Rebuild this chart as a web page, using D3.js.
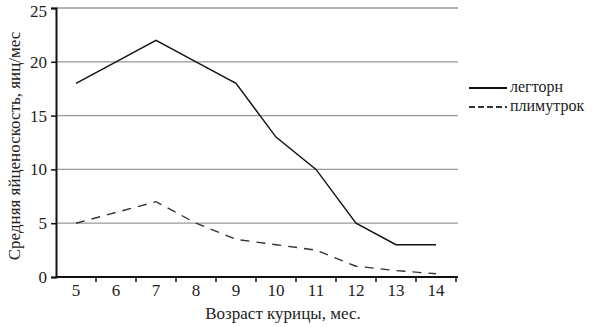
<!DOCTYPE html>
<html><head><meta charset="utf-8">
<script src="https://cdn.jsdelivr.net/npm/d3@7"></script>
</head><body style="margin:0"><svg id="c" width="599" height="327"></svg>
<script>
const ages = ["5","6","7","8","9","10","11","12","13","14"];
const leghorn = [18,20,22,20,18,13,10,5,3,3];
const plymouth = [5,6,7,5,3.5,3,2.5,1,0.6,0.3];
const yTicks = [0,5,10,15,20,25];
const seriesNames = ["легторн","плимутрок"];

const FONT = '"Liberation Serif"';
const svg = d3.select("#c");
const x = d3.scaleBand().domain(ages).range([56,456]);
const y = d3.scaleLinear().domain([0,25]).range([277,8]);

function fontify(sel, size){ sel.style("font-family",FONT).style("font-size",size+"px").attr("fill","#222"); return sel; }

// grid
svg.append("g").selectAll("line").data(yTicks.filter(d=>d>0)).join("line")
  .attr("x1",56).attr("x2",458).attr("y1",d=>y(d)).attr("y2",d=>y(d))
  .attr("stroke","#999").attr("stroke-width",1.3);

// y axis
const ya = svg.append("g").attr("transform","translate(56,0)")
  .call(d3.axisLeft(y).tickValues(yTicks).tickSize(5).tickPadding(4));
ya.select(".domain").attr("stroke","#111").attr("stroke-width",2);
ya.selectAll(".tick line").attr("stroke","#111").attr("stroke-width",1.5);
fontify(ya.selectAll("text"),17);
ya.selectAll(".tick").filter(d=>d===25).select("text").attr("dy","0.5em");

// x axis
const xa = svg.append("g").attr("transform","translate(0,277)")
  .call(d3.axisBottom(x).tickSize(0).tickPadding(7));
xa.select(".domain").attr("stroke","#111").attr("stroke-width",2).attr("d","M56,0H458");
fontify(xa.selectAll("text"),17);
const edges = ages.slice(1).map(d=>x(d)).concat([x.range()[1]]);
svg.append("g").selectAll("line").data(edges).join("line")
  .attr("x1",d=>d).attr("x2",d=>d)
  .attr("y1",277).attr("y2",282).attr("stroke","#111").attr("stroke-width",1.5);

const line = d3.line().x((d,i)=>x(ages[i])+x.bandwidth()/2).y(d=>y(d));
svg.append("path").datum(leghorn).attr("d",line).attr("fill","none").attr("stroke","#111").attr("stroke-width",1.4);
svg.append("path").datum(plymouth).attr("d",line).attr("fill","none").attr("stroke","#333").attr("stroke-width",1.4).attr("stroke-dasharray","9,7");

// labels
fontify(svg.append("text").attr("x",283).attr("y",319).attr("text-anchor","middle").text("Возраст курицы, мес."),17);
fontify(svg.append("text").attr("transform","translate(20,146) rotate(-90)").attr("text-anchor","middle").text("Средняя яйценоскость, яиц/мес"),17);

// legend
svg.append("line").attr("x1",469).attr("x2",507).attr("y1",88).attr("y2",88).attr("stroke","#111").attr("stroke-width",1.8);
svg.append("line").attr("x1",469).attr("x2",507).attr("y1",107).attr("y2",107).attr("stroke","#333").attr("stroke-width",1.8).attr("stroke-dasharray","6,3");
fontify(svg.append("text").attr("x",510).attr("y",92).text(seriesNames[0]),16);
fontify(svg.append("text").attr("x",510).attr("y",111).text(seriesNames[1]),16);
</script></body></html>
